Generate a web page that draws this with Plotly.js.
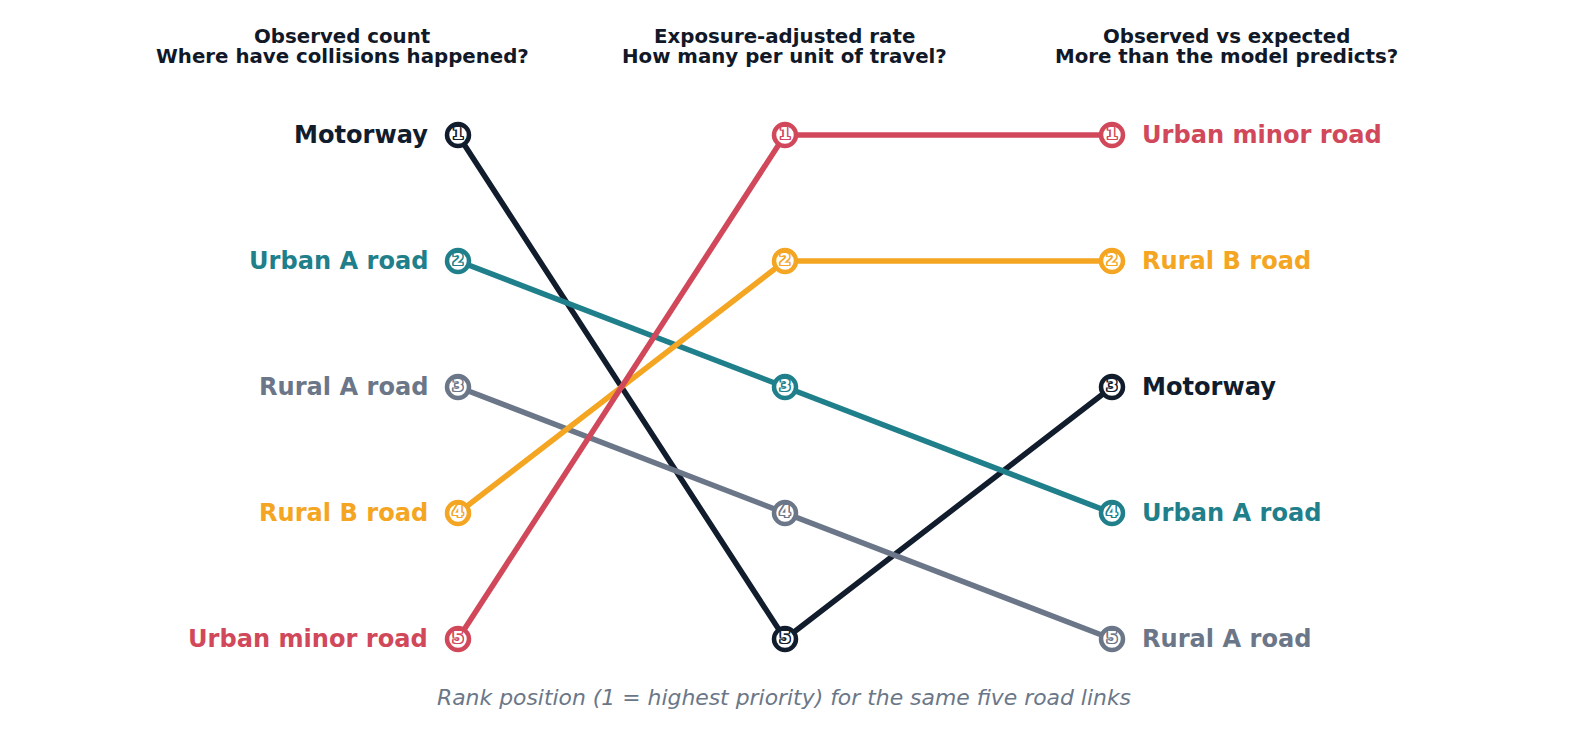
<!DOCTYPE html>
<html>
<head>
<meta charset="utf-8">
<script src="https://cdn.plot.ly/plotly-3.0.1.min.js"></script>
<style>
  html, body { margin: 0; padding: 0; background: #ffffff; }
  #chart { width: 1570px; height: 730px; }
</style>
</head>
<body>
<div id="chart"></div>
<script>
// Five road links ranked under three prioritisation methods
const roads = ["Motorway", "Urban A road", "Rural A road", "Rural B road", "Urban minor road"];
const rankObservedCount = [1, 2, 3, 4, 5];
const rankExposureRate = [5, 3, 4, 2, 1];
const rankObsVsExpected = [3, 4, 5, 2, 1];

const stageTitles = ["Observed count", "Exposure-adjusted rate", "Observed vs expected"];
const stageQuestions = ["Where have collisions happened?", "How many per unit of travel?", "More than the model predicts?"];
const caption = "Rank position (1 = highest priority) for the same five road links";

const roadColors = {
  "Motorway": "#111c2c",
  "Urban A road": "#1f7f8b",
  "Rural A road": "#6b7788",
  "Rural B road": "#f4a521",
  "Urban minor road": "#d1485b"
};

const FONT = "DejaVu Sans, Verdana, sans-serif";
const stageX = [0, 1, 2];

// white numerals with a coloured outline
function outline(c) {
  const d = 1.4;
  return [
    [d, 0], [-d, 0], [0, d], [0, -d], [d, d], [-d, -d], [d, -d], [-d, d]
  ].map(([a, b]) => `${a}px ${b}px 0 ${c}`).join(", ");
}

const traces = roads.map((road, i) => {
  const ranks = [rankObservedCount[i], rankExposureRate[i], rankObsVsExpected[i]];
  const c = roadColors[road];
  return {
    type: "scatter",
    mode: "lines+markers+text",
    x: stageX,
    y: ranks,
    text: ranks.map(String),
    textposition: "middle center",
    textfont: { family: FONT, size: 16, color: "#ffffff", weight: "bold", shadow: outline(c) },
    line: { color: c, width: 5.5 },
    marker: { size: 22, color: "#ffffff", line: { color: c, width: 4.5 } },
    hoverinfo: "skip",
    cliponaxis: false,
    showlegend: false
  };
});

const annotations = [];
// Road names beside the first and last columns
roads.forEach((road, i) => {
  const c = roadColors[road];
  annotations.push({
    x: stageX[0], y: rankObservedCount[i], xref: "x", yref: "y",
    text: "<b>" + road + "</b>", showarrow: false,
    xanchor: "right", yanchor: "middle", xshift: -28,
    font: { family: FONT, size: 24.1, color: c }
  });
  annotations.push({
    x: stageX[2], y: rankObsVsExpected[i], xref: "x", yref: "y",
    text: "<b>" + road + "</b>", showarrow: false,
    xanchor: "left", yanchor: "middle", xshift: 28,
    font: { family: FONT, size: 24.1, color: c }
  });
});

// Column headings, two lines each
const headingCenters = [342, 784, 1226];
stageTitles.forEach((t, k) => {
  [[t, 37], [stageQuestions[k], 56]].forEach(([line, py]) => {
    annotations.push({
      x: headingCenters[k] / 1570, y: 1 - py / 730, xref: "paper", yref: "paper",
      text: "<b>" + line + "</b>", showarrow: false,
      xanchor: "center", yanchor: "middle",
      font: { family: FONT, size: 19.8, color: "#111827" }
    });
  });
});

// Footnote under the chart
annotations.push({
  x: 784 / 1570, y: 1 - 697 / 730, xref: "paper", yref: "paper",
  text: "<i>" + caption + "</i>", showarrow: false,
  xanchor: "center", yanchor: "middle",
  font: { family: FONT, size: 21.9, color: "#6b7788" }
});

const x0px = 458, unitX = 327, y1px = 135, unitY = 126;
const layout = {
  width: 1570, height: 730,
  margin: { l: 0, r: 0, t: 0, b: 0 },
  paper_bgcolor: "#ffffff", plot_bgcolor: "#ffffff",
  xaxis: { range: [-x0px / unitX, (1570 - x0px) / unitX], visible: false, fixedrange: true },
  yaxis: { range: [1 + (730 - y1px) / unitY, 1 - y1px / unitY], visible: false, fixedrange: true },
  annotations: annotations,
  showlegend: false
};

Plotly.newPlot("chart", traces, layout, { displayModeBar: false, staticPlot: true });
</script>
</body>
</html>
